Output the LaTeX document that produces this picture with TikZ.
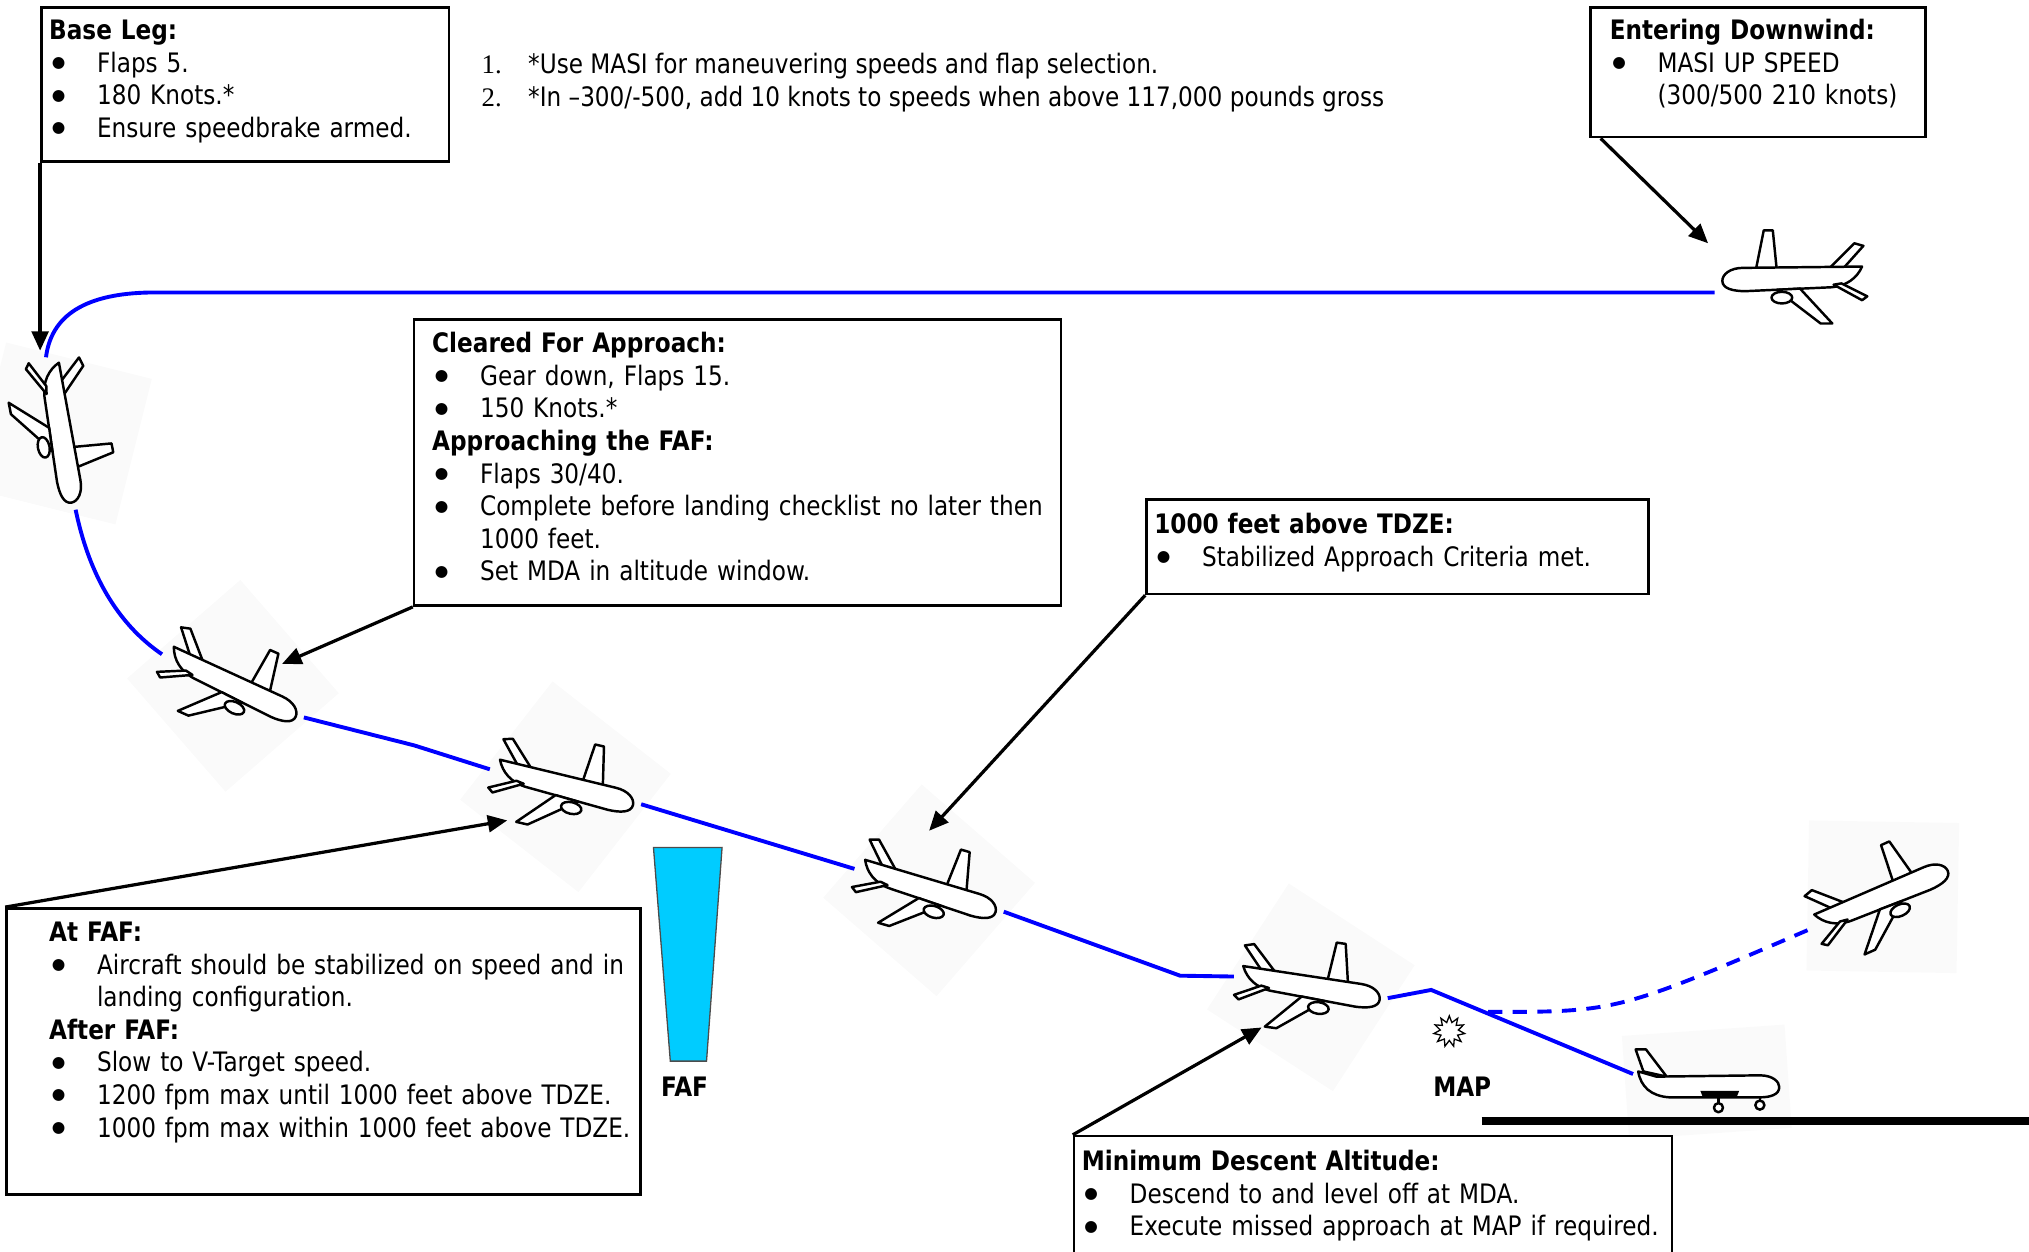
\documentclass[tikz,border=0pt]{standalone}
\usepackage{fontspec}
\setmainfont{DejaVu Sans}[FakeStretch=0.865]
\newfontfamily\numfont{Liberation Serif}
\newfontfamily\bulfont{DejaVu Sans}
\usetikzlibrary{arrows.meta,shapes.geometric,calc}

\definecolor{fafcyan}{HTML}{00CCFF}

\newcommand{\hd}[1]{\mbox{\bfseries #1}}
\newcommand{\bul}[1]{\hspace*{2pt}\makebox[35pt][l]{\raisebox{3.5pt}{\bulfont\fontsize{12}{12}\selectfont ●}}\mbox{#1}}
\newcommand{\cnt}[1]{\hspace*{37pt}\mbox{#1}}

\tikzset{
  note/.style={font=\fontsize{20.7}{25.2}\selectfont, inner sep=0pt},
  infobox/.style={note, draw, line width=2pt, fill=white, anchor=north west,
    align=left, inner ysep=0pt},
  ptlabel/.style={font=\fontsize{20.7}{25}\selectfont\bfseries, inner sep=0pt},
  pointer/.style={line width=2.5pt, -{Triangle[length=15pt,width=13pt]}},
  flightpath/.style={draw=blue, line width=3pt},
  missed/.style={flightpath, dash pattern=on 11pt off 8pt},
  jetline/.style={line width=1.9pt, fill=white, line join=round},
  jetbg/.style={fill=black!2},
  jet/.pic={
    \path[jetbg, rotate=65] (-58,-58) rectangle (58,58);
    \draw[jetline] (12,-7) -- (15,-37) -- (22,-37) -- (28,-7) -- cycle;
    \draw[jetline] (-38,-6) -- (-55,-25) -- (-48,-27) -- (-28,-7) -- cycle;
    \draw[jetline] (-54,-9) -- (38,-8) .. controls (48,-8) and (54,-3) .. (54,2)
      .. controls (54,8) and (46,10) .. (36,10) -- (-30,7)
      .. controls (-42,6) and (-50,0) .. (-54,-9) -- cycle;
    \draw[jetline] (12,9) -- (-22,35) -- (-31,35) -- (-6,8) -- cycle;
    \draw[jetline] (-38,4) -- (-58,14) -- (-54,17) -- (-32,5) -- cycle;
    \draw[jetline] (8,15) ellipse [x radius=8, y radius=4.5];
    \coordinate (-nose) at (60,0);
    \coordinate (-tail) at (-60,0);
  },
  sidejet/.pic={
    \path[jetbg, rotate=4] (-64,-40) rectangle (62,40);
    \draw[jetline] (-50,-8) -- (-56,-25) -- (-48,-25) -- (-32,-4) -- cycle;
    \draw[jetline] (-54,-8) -- (-40,-4) -- (40,-5) .. controls (50,-5) and (55,0) .. (55,4)
      .. controls (55,10) and (48,12) .. (40,12) -- (-30,12)
      .. controls (-44,11) and (-52,4) .. (-54,-8) -- cycle;
    \fill (-6,7) -- (24,7) -- (22,12) -- (-4,12) -- cycle;
    \draw[line width=1.9pt] (8,12) -- (8,17) (40,11) -- (40,15);
    \draw[jetline] (8,20) circle [radius=3.5] (40,18) circle [radius=3.5];
    \coordinate (-tail) at (-58,-6);
  }
}

\begin{document}
\begin{tikzpicture}[x=1pt, y=-1pt]
  \useasboundingbox (0,0) rectangle (1568,967);

  % aircraft along the pattern
  \pic[xscale=-1, jetbg/.style={}] (p1) at (1385,215) {jet};
  \pic[rotate=-79] (p2) at (47,335) {jet};
  \pic[rotate=-24] (p3) at (180,530) {jet};
  \pic[rotate=-13] (p4) at (437,608) {jet};
  \pic[rotate=-16] (p5) at (718,688) {jet};
  \pic[rotate=-8] (p6) at (1013,763) {jet};
  \pic (p7) at (1320,836) {sidejet};
  \pic[rotate=24] (p8) at (1455,693) {jet};

  % flight path
  \coordinate (downwindleg) at (120,226);
  \coordinate (goaround) at (1150,782);
  \draw[flightpath] (p1-nose |- downwindleg) -- (downwindleg)
    .. controls (72,226) and (40,240) .. (p2-tail);
  \draw[flightpath] (p2-nose) .. controls (70,450) and (95,485) .. (p3-tail);
  \draw[flightpath] (p3-nose) -- (320,576) -- (p4-tail);
  \draw[flightpath] (p4-nose) -- (p5-tail);
  \draw[flightpath] (p5-nose) -- (912,754) -- (p6-tail);
  \draw[flightpath] (p6-nose) -- (1106,765) -- (p7-tail);
  \draw[missed] (goaround) .. controls (1250,782) .. (p8-tail);

  % FAF, MAP and runway
  \filldraw[fill=fafcyan, draw=black!70, line width=1pt]
    (505,655) -- (558,655) -- (546,820) -- (518,820) -- cycle;
  \node[ptlabel] (faf) at (529,840) {FAF};
  \node[star, star points=11, star point ratio=1.7, draw, line width=1pt,
    minimum size=24pt, inner sep=0pt] (mapstar) at (1120,797) {};
  \node[ptlabel] (map) at (1130,840) {MAP};
  \draw[line width=6pt] (1145,866) -- (1568,866);

  % notes
  \node[note, anchor=base west] (num1) at (372,57) {\numfont 1.};
  \node[note, anchor=base west] (note1) at (408,57)
    {*Use MASI for maneuvering speeds and flap selection.};
  \node[note, anchor=base west] (num2) at (372,82) {\numfont 2.};
  \node[note, anchor=base west] (note2) at (408,82)
    {*In –300/-500, add 10 knots to speeds when above 117,000 pounds gross};

  % checklists
  \node[infobox, inner xsep=6pt, text width=303pt, text height=24.5pt,
    text depth=94.5pt] (baseleg) at (31,5)
    {\hd{Base Leg:}\\ \bul{Flaps 5.}\\ \bul{180 Knots.*}\\
     \bul{Ensure speedbrake armed.}};
  \node[infobox, inner xsep=15pt, text width=229pt, text height=24.5pt,
    text depth=75.5pt] (downwind) at (1228,5)
    {\hd{Entering Downwind:}\\ \bul{MASI UP SPEED}\\ \cnt{(300/500 210 knots)}};
  \node[infobox, inner xsep=14pt, text width=472pt, text height=25.5pt,
    text depth=195.5pt] (cleared) at (319,246)
    {\hd{Cleared For Approach:}\\ \bul{Gear down, Flaps 15.}\\ \bul{150 Knots.*}\\
     \hd{Approaching the FAF:}\\ \bul{Flaps 30/40.}\\
     \bul{Complete before landing checklist no later then}\\ \cnt{1000 feet.}\\
     \bul{Set MDA in altitude window.}};
  \node[infobox, inner xsep=6pt, text width=376pt, text height=26.5pt,
    text depth=46.5pt] (tdze) at (885,385)
    {\hd{1000 feet above TDZE:}\\ \bul{Stabilized Approach Criteria met.}};
  \node[infobox, inner xsep=33pt, text width=424pt, text height=25.5pt,
    text depth=195.5pt] (atfaf) at (4,701)
    {\hd{At FAF:}\\ \bul{Aircraft should be stabilized on speed and in}\\
     \cnt{landing configuration.}\\ \hd{After FAF:}\\
     \bul{Slow to V-Target speed.}\\ \bul{1200 fpm max until 1000 feet above TDZE.}\\
     \bul{1000 fpm max within 1000 feet above TDZE.}};
  \node[infobox, inner xsep=6pt, text width=450pt, text height=26.5pt,
    text depth=120pt] (mda) at (829,877)
    {\hd{Minimum Descent Altitude:}\\ \bul{Descend to and level off at MDA.}\\
     \bul{Execute missed approach at MAP if required.}};

  % callouts
  \coordinate (aimdown) at (1320,188);
  \coordinate (aimbase) at (31,271);
  \coordinate (aimclear) at (218,513);
  \coordinate (aimfaf) at (392,634);
  \coordinate (aimtdze) at (718,642);
  \coordinate (aimmda) at (975,794);
  \draw[pointer] (baseleg.south west) -- (aimbase);
  \draw[pointer] ($(downwind.south west)+(9,0)$) -- (aimdown);
  \draw[pointer] (cleared.south west) -- (aimclear);
  \draw[pointer] (atfaf.north west) -- (aimfaf);
  \draw[pointer] (tdze.south west) -- (aimtdze);
  \draw[pointer] (mda.north west) -- (aimmda);
\end{tikzpicture}
\end{document}
